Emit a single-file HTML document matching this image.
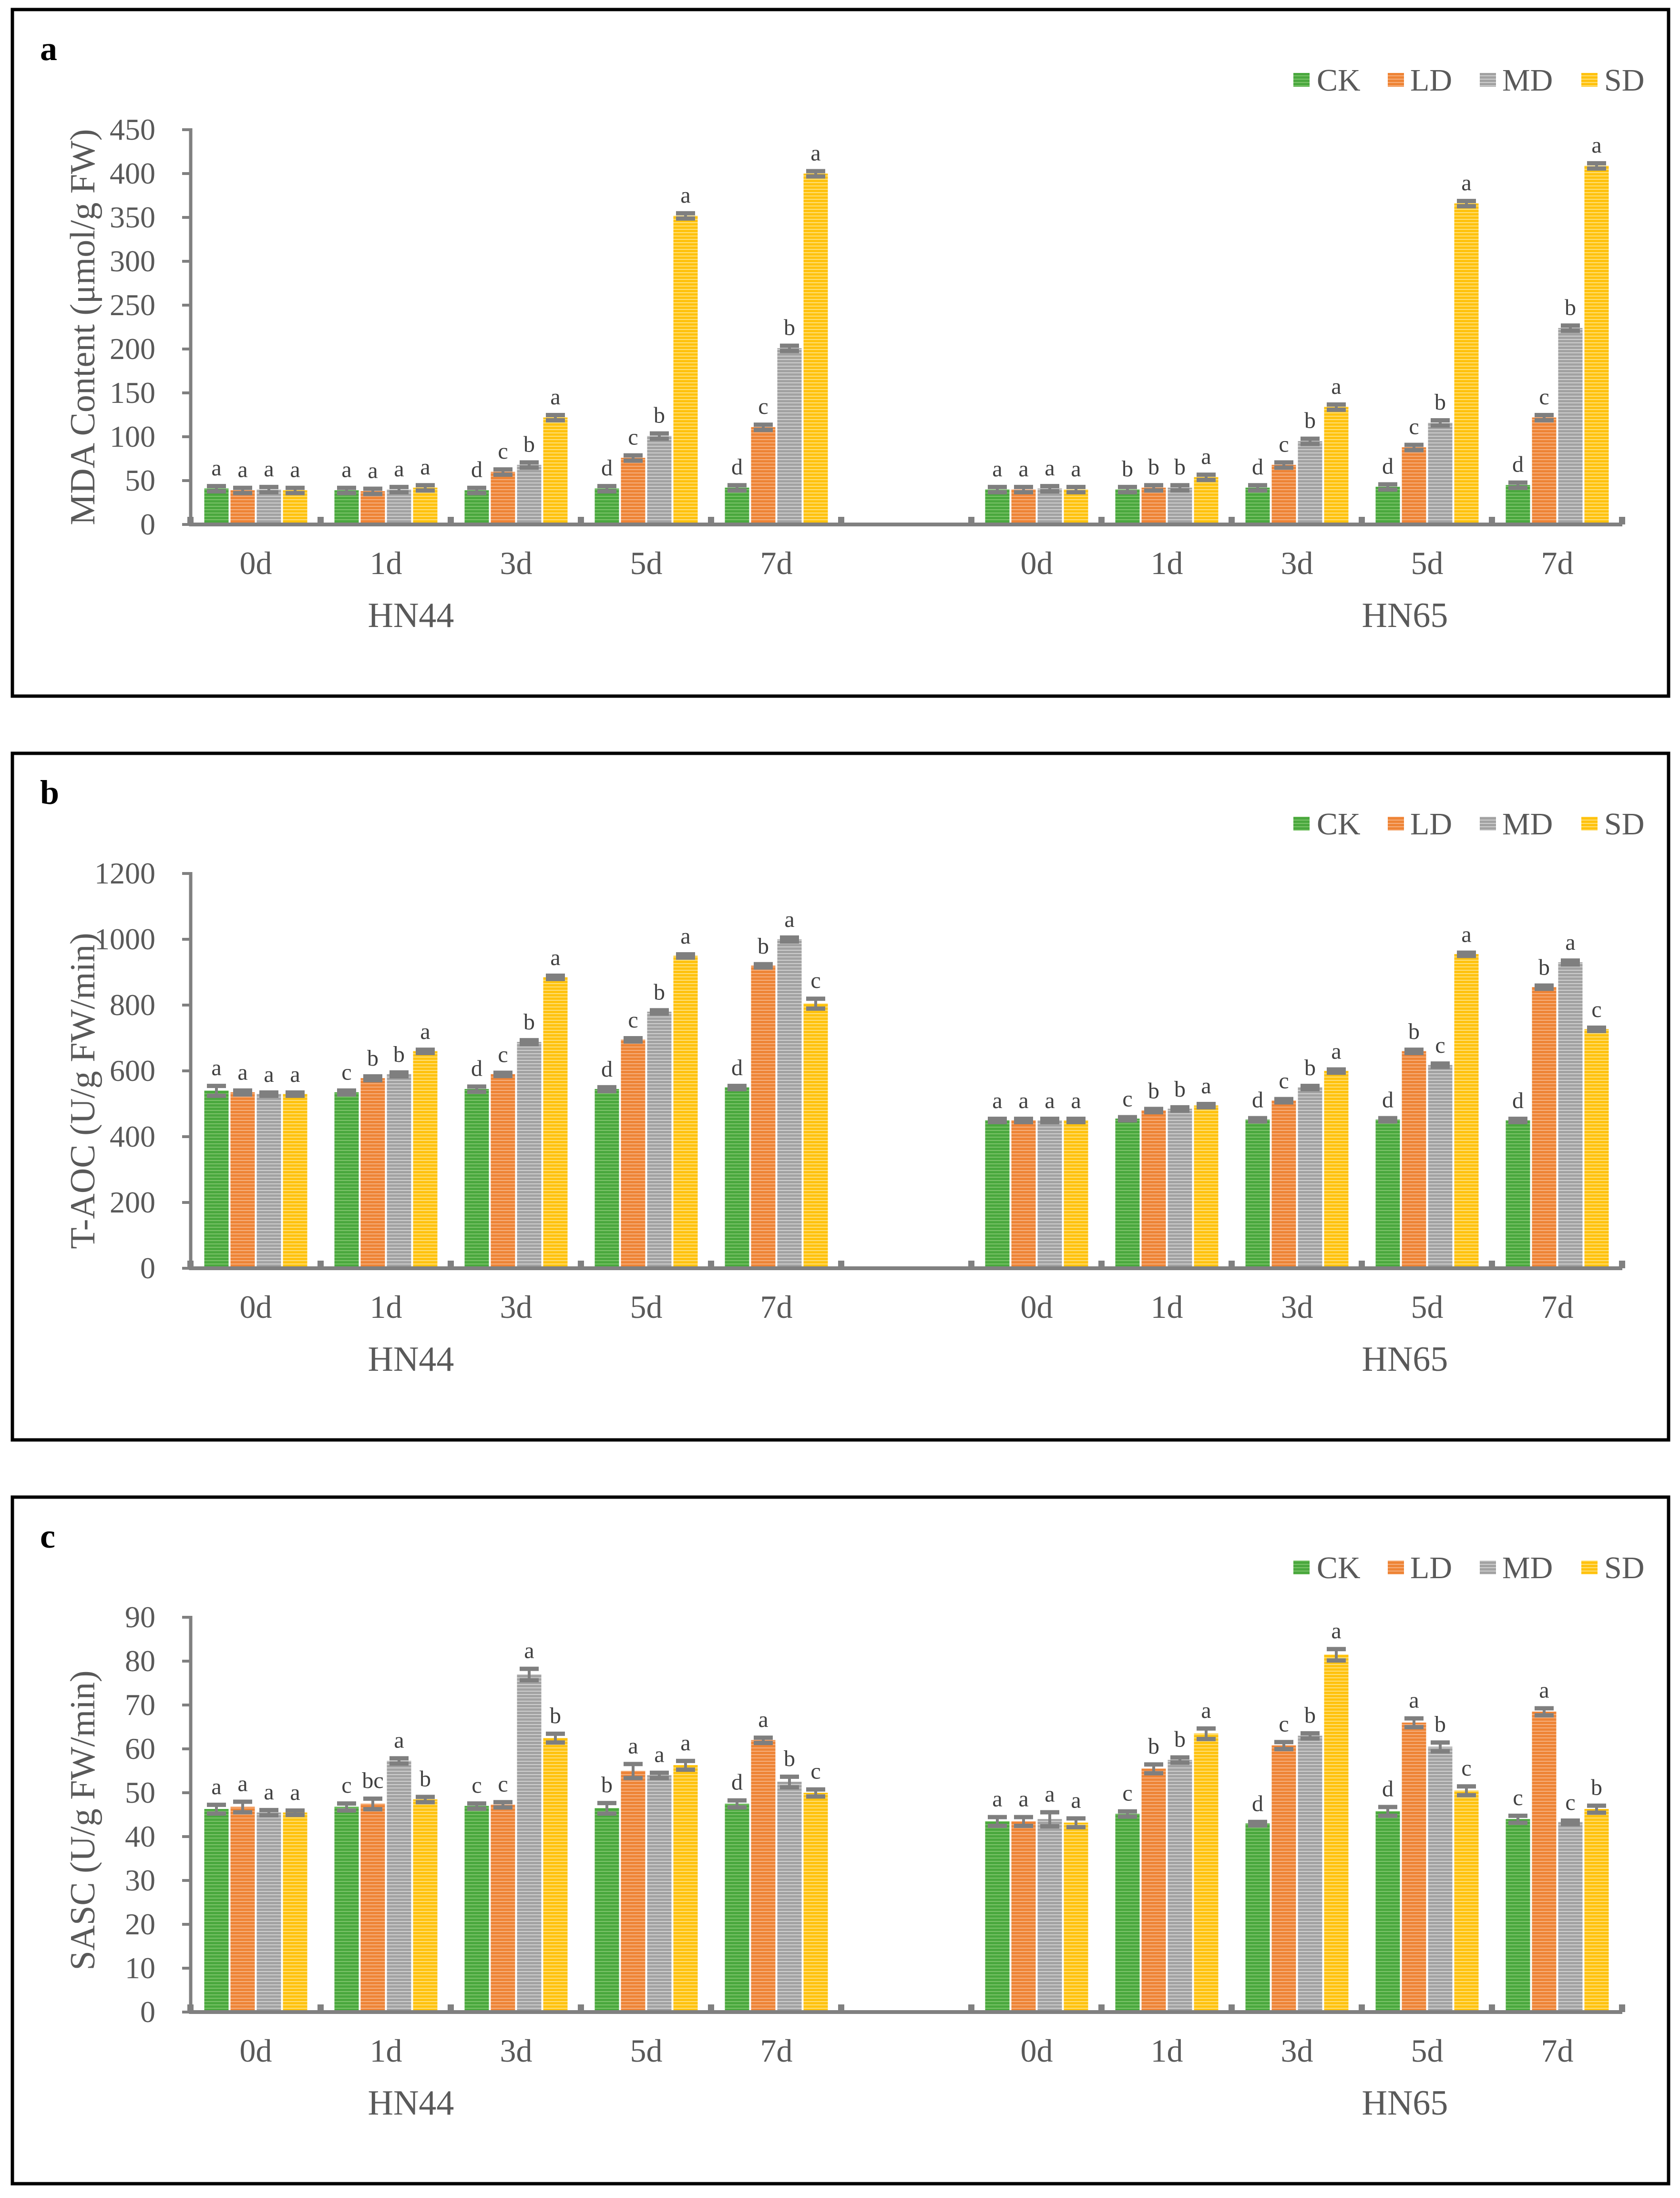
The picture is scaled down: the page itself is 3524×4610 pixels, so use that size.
<!DOCTYPE html>
<html><head><meta charset="utf-8"><style>
html,body{margin:0;padding:0;background:#fff}
svg{display:block}
text{font-family:"Liberation Serif",serif}
</style></head><body>
<svg id="fig" width="3524" height="4610" viewBox="0 0 3524 4610" xmlns="http://www.w3.org/2000/svg">
<defs>
<pattern id="p0" width="8" height="7" patternUnits="userSpaceOnUse"><rect width="8" height="7" fill="#4aa83e"/><rect y="4" width="8" height="2" fill="#7cc46a"/></pattern>
<pattern id="p1" width="8" height="7" patternUnits="userSpaceOnUse"><rect width="8" height="7" fill="#ee8436"/><rect y="4" width="8" height="2" fill="#f6b07e"/></pattern>
<pattern id="p2" width="8" height="7" patternUnits="userSpaceOnUse"><rect width="8" height="7" fill="#a2a2a2"/><rect y="4" width="8" height="2" fill="#cfcfcf"/></pattern>
<pattern id="p3" width="8" height="7" patternUnits="userSpaceOnUse"><rect width="8" height="7" fill="#ffc20e"/><rect y="4" width="8" height="2" fill="#ffe07a"/></pattern>
</defs>
</svg>
<script>
const series = ['CK','LD','MD','SD'];
const days = ['0d','1d','3d','5d','7d'];
const groups = ['HN44','HN65'];
// Panel a: MDA
const mdaHN44 = [[41,39,40,39],[39,38,40,42],[39,60,68,122],[41,76,101,352],[42,111,201,400]];
const mdaHN65 = [[40,40,41,40],[40,42,42,54],[42,68,95,134],[43,88,116,366],[45,122,224,409]];
const mdaErr = 3;
const mdaLetters44 = [['a','a','a','a'],['a','a','a','a'],['d','c','b','a'],['d','c','b','a'],['d','c','b','a']];
const mdaLetters65 = [['a','a','a','a'],['b','b','b','a'],['d','c','b','a'],['d','c','b','a'],['d','c','b','a']];
const mdaTicks = [0,50,100,150,200,250,300,350,400,450];
// Panel b: T-AOC
const taocHN44 = [[540,535,530,530],[535,578,590,660],[545,590,688,885],[545,695,780,950],[550,920,1000,805]];
const taocHN65 = [[450,450,450,450],[455,480,485,495],[452,510,550,600],[452,660,618,955],[450,855,930,727]];
const taocErr44 = [[15,6,5,5],[6,6,6,5],[8,5,6,5],[6,5,5,5],[5,5,6,15]];
const taocErr65 = [[5,5,5,5],[5,5,5,5],[5,5,5,5],[5,5,5,5],[5,5,6,5]];
const taocLetters44 = [['a','a','a','a'],['c','b','b','a'],['d','c','b','a'],['d','c','b','a'],['d','b','a','c']];
const taocLetters65 = [['a','a','a','a'],['c','b','b','a'],['d','c','b','a'],['d','b','c','a'],['d','b','a','c']];
const taocTicks = [0,200,400,600,800,1000,1200];
// Panel c: SASC
const sascHN44 = [[46.3,46.8,45.5,45.5],[46.8,47.5,57.3,48.5],[47,47.3,77,62.5],[46.5,55,54,56.3],[47.5,62,52.5,50]];
const sascHN65 = [[43.5,43.5,44,43.2],[45.2,55.5,57.5,63.5],[43,60.8,63,81.5],[45.8,66,60.5,50.5],[44,68.5,43.3,46.3]];
const sascErr44 = [[1,1.2,0.6,0.5],[0.8,1.2,0.6,0.6],[0.6,0.6,1.3,1],[1.2,1.6,0.6,1],[0.8,0.6,1.2,0.8]];
const sascErr65 = [[1,1,1.6,1],[0.6,1,0.6,1.2],[0.4,0.8,0.6,1.3],[1,1,1,1],[0.8,0.8,0.4,0.8]];
const sascLetters44 = [['a','a','a','a'],['c','bc','a','b'],['c','c','a','b'],['b','a','a','a'],['d','a','b','c']];
const sascLetters65 = [['a','a','a','a'],['c','b','b','a'],['d','c','b','a'],['d','a','b','c'],['c','a','c','b']];
const sascTicks = [0,10,20,30,40,50,60,70,80,90];

const NS='http://www.w3.org/2000/svg';
const svg=document.getElementById('fig');
function mk(tag,attrs,parent,txt){const e=document.createElementNS(NS,tag);for(const k in attrs)e.setAttribute(k,attrs[k]);if(txt!==undefined)e.textContent=txt;(parent||svg).appendChild(e);return e;}

const AX0=400, CW=273, PITCH=55, BW=51;
const legendSq=[2713,2911,3104,3317], legendTx=[2762,2958,3151,3365];

function panel(off,label,title,titleY,ticks,ymax,d44,d65,e44,e65,l44,l65,name){
  const g=mk('g',{});
  
  
  const y0=off+1080, ytop=off+252;
  const Y=v=>y0-(v/ymax)*(y0-ytop);
  const box=mk('rect',{x:26,y:off+0,width:3474,height:1440,fill:'none',stroke:'#000','stroke-width':7},g);
  
  const pl=mk('text',{x:84,y:off+106,'font-size':72,'font-weight':'bold',fill:'#000'},g,label);
  
  series.forEach((s,i)=>{
    const lg=mk('g',{},g);
    
    
    mk('rect',{x:legendSq[i],y:off+133,width:34,height:29,fill:'url(#p'+i+')'},lg);
    mk('text',{x:legendTx[i],y:off+170,'font-size':66,fill:'#595959'},lg,s);
  });
  const yt=mk('text',{x:0,y:0,'font-size':74,fill:'#595959','text-anchor':'middle',transform:'translate(198,'+(off+titleY)+') rotate(-90)'},g,title);
  
  ticks.forEach(t=>{
    const y=Y(t);
    mk('line',{x1:382,x2:AX0,y1:y,y2:y,stroke:'#808080','stroke-width':6},g);
    const tl=mk('text',{x:326,y:y+21,'font-size':64,fill:'#595959','text-anchor':'end'},g,String(t));
    
  });
  const ya=mk('line',{x1:AX0,x2:AX0,y1:ytop-3,y2:y0+4,stroke:'#808080','stroke-width':7},g);
  
  const xa=mk('line',{x1:AX0,x2:AX0+11*CW,y1:y0,y2:y0,stroke:'#808080','stroke-width':8},g);
  
  for(let k=0;k<=11;k++){ mk('rect',{x:AX0+k*CW-7,y:y0-16,width:13,height:16,fill:'#808080'},g); }
  const sets=[[d44,e44,l44,0],[d65,e65,l65,6]];
  sets.forEach(([d,e,l,c0],gi)=>{
    days.forEach((day,di)=>{
      const cx0=AX0+(c0+di)*CW;
      const cl=mk('text',{x:cx0+CW/2,y:off+1184,'font-size':68,fill:'#595959','text-anchor':'middle'},g,day);
      
      series.forEach((s,si)=>{
        const v=d[di][si]; const err=typeof e==='number'?e:e[di][si];
        const x=cx0+(CW-(3*PITCH+BW))/2+si*PITCH;
        const b=mk('rect',{x:x,y:Y(v),width:BW,height:y0-4-Y(v),fill:'url(#p'+si+')'},g);
        
        
        const xc=x+BW/2, yh=Y(v+err), yl=Y(v-err);
        mk('rect',{x:xc-3,y:yh,width:6,height:Math.max(yl-yh,1),fill:'#7f7f7f'},g);
        mk('rect',{x:xc-20,y:yh-4,width:40,height:9,fill:'#7f7f7f'},g);
        mk('rect',{x:xc-20,y:yl-4,width:40,height:9,fill:'#7f7f7f'},g);
        const lt=mk('text',{x:xc,y:yh-22,'font-size':48,fill:'#404040','text-anchor':'middle'},g,l[di][si]);
        
      });
    });
  });
  const g1=mk('text',{x:862,y:off+1295,'font-size':74,fill:'#595959','text-anchor':'middle'},g,'HN44');
  
  const g2=mk('text',{x:2947,y:off+1295,'font-size':74,fill:'#595959','text-anchor':'middle'},g,'HN65');
  
}
panel(20,'a','MDA Content (μmol/g FW)',666,mdaTicks,450,mdaHN44,mdaHN65,mdaErr,mdaErr,mdaLetters44,mdaLetters65,'mda');
panel(1580,'b','T-AOC  (U/g FW/min)',708,taocTicks,1200,taocHN44,taocHN65,taocErr44,taocErr65,taocLetters44,taocLetters65,'taoc');
panel(3140,'c','SASC  (U/g FW/min)',678,sascTicks,90,sascHN44,sascHN65,sascErr44,sascErr65,sascLetters44,sascLetters65,'sasc');
</script>
</body></html>
